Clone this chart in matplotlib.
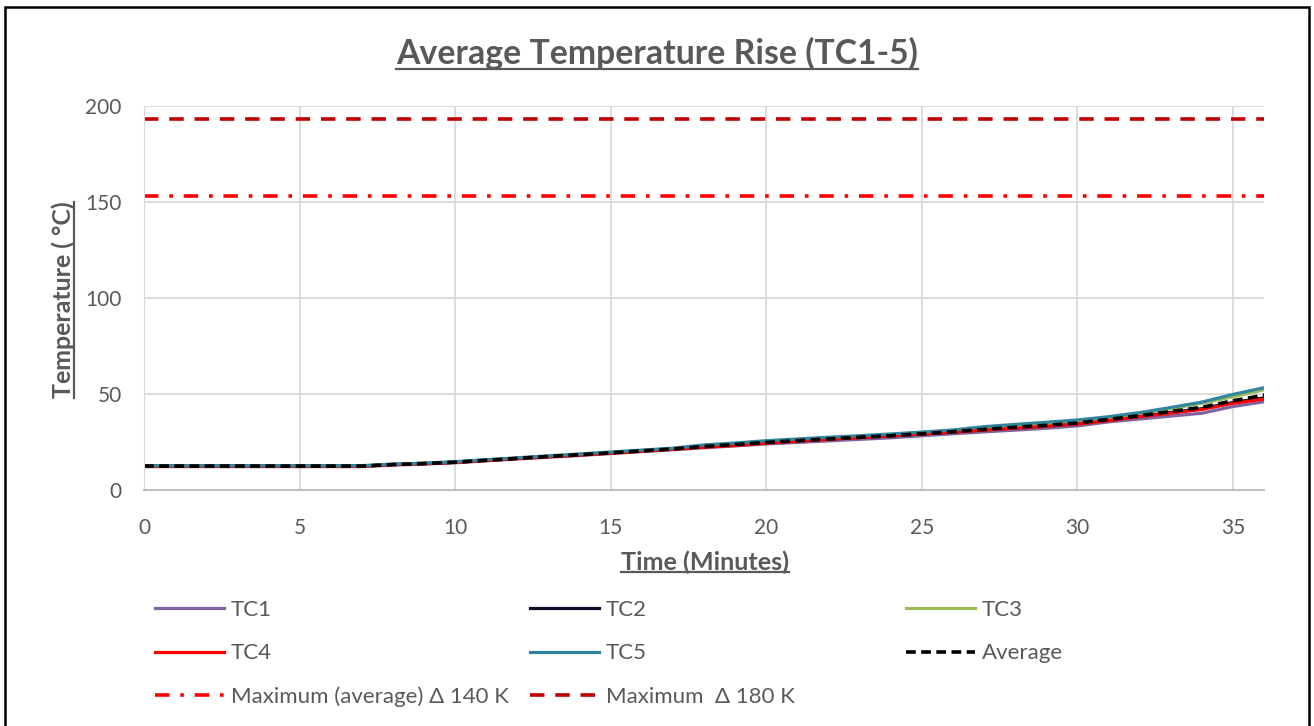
import matplotlib
matplotlib.use('Agg')
import matplotlib.pyplot as plt
from matplotlib.lines import Line2D
from matplotlib.patches import Rectangle
import numpy as np

plt.rcParams['font.family'] = ['Lato', 'DejaVu Sans']

# time in minutes
t = list(range(0, 37))

tc1 = [12.2, 12.2, 12.2, 12.2, 12.2, 12.2, 12.2, 12.2, 13.0, 13.5, 14.2, 15.2, 16.2,
       17.1, 18.0, 19.0, 20.0, 21.0, 22.0, 23.0, 24.0, 24.8, 25.6, 26.4, 27.2, 28.3,
       29.3, 30.3, 31.2, 32.2, 33.4, 35.5, 37.0, 38.5, 40.0, 43.5, 46.0]
tc2 = [12.5, 12.5, 12.5, 12.5, 12.5, 12.5, 12.5, 12.5, 13.3, 13.8, 14.5, 15.5, 16.5,
       17.5, 18.4, 19.4, 20.4, 21.4, 22.5, 23.6, 24.8, 25.7, 26.6, 27.4, 28.2, 29.2,
       30.2, 31.4, 32.4, 33.4, 34.6, 36.4, 38.4, 40.4, 42.4, 45.6, 48.0]
tc3 = [12.6, 12.6, 12.6, 12.6, 12.6, 12.6, 12.6, 12.6, 13.4, 13.9, 14.6, 15.6, 16.6,
       17.6, 18.6, 19.6, 20.6, 21.6, 23.0, 24.0, 25.2, 26.1, 27.0, 27.9, 28.8, 29.8,
       30.8, 32.2, 33.4, 34.6, 35.8, 37.6, 39.8, 42.4, 45.2, 48.6, 52.2]
tc4 = [12.4, 12.4, 12.4, 12.4, 12.4, 12.4, 12.4, 12.4, 13.2, 13.7, 14.4, 15.4, 16.4,
       17.3, 18.2, 19.2, 20.2, 21.2, 22.3, 23.2, 24.4, 25.4, 26.4, 27.3, 28.2, 29.2,
       30.2, 31.2, 32.2, 33.2, 34.4, 36.2, 38.2, 40.0, 42.0, 45.2, 47.4]
tc5 = [12.7, 12.7, 12.7, 12.7, 12.7, 12.7, 12.7, 12.7, 13.5, 14.0, 14.8, 15.8, 16.8,
       17.8, 18.8, 19.8, 20.8, 21.8, 23.5, 24.5, 25.7, 26.6, 27.5, 28.3, 29.2, 30.2,
       31.3, 33.0, 34.2, 35.3, 36.5, 38.2, 40.3, 43.0, 45.8, 49.8, 53.3]
average = [12.5, 12.5, 12.5, 12.5, 12.5, 12.5, 12.5, 12.5, 13.3, 13.8, 14.5, 15.5, 16.5,
           17.5, 18.4, 19.4, 20.4, 21.4, 22.7, 23.7, 24.8, 25.7, 26.6, 27.5, 28.3, 29.3,
           30.4, 31.6, 32.7, 33.7, 34.9, 36.8, 38.7, 40.9, 43.1, 46.5, 49.4]

limit_avg = 153   # 13 + 140 K
limit_max = 193   # 13 + 180 K

fig = plt.figure(figsize=(13.14, 7.26), dpi=100)
ax = fig.add_axes([0.1096, 0.325, 0.8524, 0.529])

grey = '#595959'
h1, = ax.plot(t, tc1, color='#8064A2', lw=2.3, label='TC1')
h2, = ax.plot(t, tc2, color='#0D0D26', lw=2.3, label='TC2')
h3, = ax.plot(t, tc3, color='#9BBB59', lw=2.3, label='TC3')
h4, = ax.plot(t, tc4, color='#FF0000', lw=2.3, label='TC4')
h5, = ax.plot(t, tc5, color='#31859C', lw=2.3, label='TC5')
h6, = ax.plot(t, average, color='black', lw=2.6, ls=(0, (2.7, 1.5)), label='Average')
h7 = ax.axhline(limit_avg, color='#FF0000', lw=2.6, ls=(0, (4, 3, 1, 3)),
                label='Maximum (average) \u0394 140 K')
h8 = ax.axhline(limit_max, color='#C00000', lw=2.6, ls=(0, (4, 3)),
                label='Maximum  \u0394 180 K')

ax.set_xlim(0, 36)
ax.set_ylim(0, 200)
ax.set_xticks(range(0, 36, 5))
ax.set_yticks(range(0, 201, 50))
ax.grid(True, color='#D9D9D9', lw=1.3)
ax.set_axisbelow(True)
for s in ['top', 'right']:
    ax.spines[s].set_visible(False)
ax.spines['bottom'].set_color('#BFBFBF')
ax.spines['left'].set_color('#D9D9D9')
ax.spines['bottom'].set_linewidth(1.5)
ax.tick_params(length=0, labelsize=15, colors=grey, pad=20)
ax.tick_params(axis='y', pad=16)

title = fig.text(0.5, 0.926, 'Average Temperature Rise (TC1-5)', ha='center', va='center',
                 fontsize=24, fontweight='bold', color=grey)
xl = fig.text(0.5365, 0.226, 'Time (Minutes)', ha='center', va='center',
              fontsize=18, fontweight='bold', color=grey)
yl = fig.text(0.048, 0.587, 'Temperature ( \u00b0C)', ha='center', va='center',
              rotation=90, fontsize=20, fontweight='bold', color=grey)

# legend in three equal columns
cols = [[h1, h4, h7], [h2, h5, h8], [h3, h6]]
xs = [155, 530, 906]
for hs, x in zip(cols, xs):
    leg = fig.legend(handles=hs, loc='upper left', bbox_to_anchor=(x / 1314, 1 - 600 / 726),
                     frameon=False, fontsize=16, handlelength=3.1, handletextpad=0.3,
                     labelspacing=1.05, borderpad=0, borderaxespad=0)
    for txt in leg.get_texts():
        txt.set_color(grey)

# outer border
fig.patches.append(Rectangle((0.004, -0.01), 0.992, 1.0, transform=fig.transFigure,
                             fill=False, edgecolor='black', lw=1.8))

# fit the title texts to the widths seen in the picture
fig.canvas.draw()
r = fig.canvas.get_renderer()
for tx, target, vert in [(title, 521, False), (xl, 168, False), (yl, 197, True)]:
    bb = tx.get_window_extent(r)
    size = bb.height if vert else bb.width
    tx.set_fontsize(tx.get_fontsize() * target / size)

# underline title and axis titles
fig.canvas.draw()
inv = fig.transFigure.inverted()
for tx in [title, xl]:
    bb = tx.get_window_extent(r)
    (x0, y0), (x1, y1) = inv.transform([[bb.x0, bb.y0], [bb.x1, bb.y1]])
    fig.add_artist(Line2D([x0, x1], [y0 + 0.002, y0 + 0.002], transform=fig.transFigure,
                          color=grey, lw=1.6))
bb = yl.get_window_extent(r)
(x0, y0), (x1, y1) = inv.transform([[bb.x0, bb.y0], [bb.x1, bb.y1]])
fig.add_artist(Line2D([x1 - 0.001, x1 - 0.001], [y0, y1], transform=fig.transFigure,
                      color=grey, lw=1.6))

fig.savefig('out.png', dpi=100)
